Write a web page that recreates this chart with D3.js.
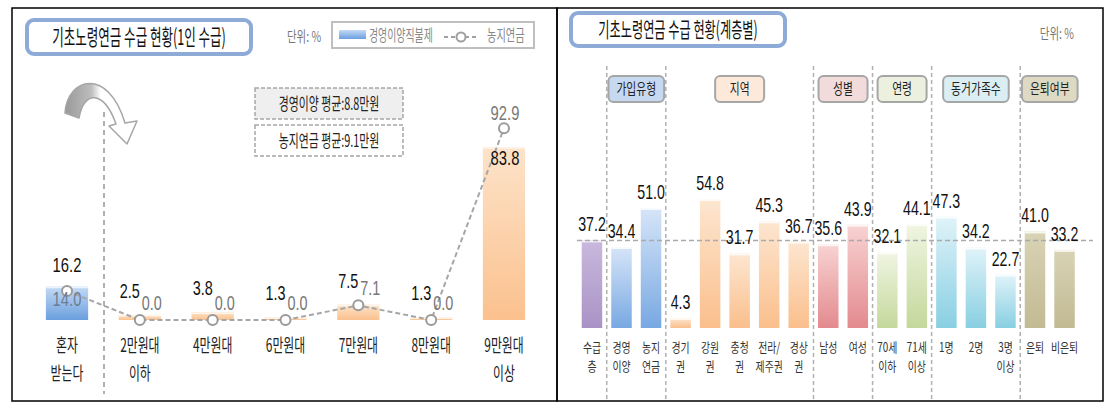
<!DOCTYPE html>
<html><head><meta charset="utf-8">
<script src="https://cdn.jsdelivr.net/npm/d3@7"></script>
<style>html,body{margin:0;padding:0;background:#fff;}svg{display:block;}</style>
</head><body>
<svg id="c" width="1119" height="408"></svg>
<script>
// ---------- DATA ----------
const leftTitle = "기초노령연금 수급 현황(1인 수급)";
const leftUnit = "단위: %";
const leftSeriesNames = ["경영이양직불제", "농지연금"];
const leftCategories = ["혼자|받는다", "2만원대|이하", "4만원대", "6만원대", "7만원대", "8만원대", "9만원대|이상"];
const leftBarValues = [16.2, 2.5, 3.8, 1.3, 7.5, 1.3, 83.8];   // 경영이양직불제
const leftLineValues = [14.0, 0.0, 0.0, 0.0, 7.1, 0.0, 92.9];  // 농지연금
const leftAverages = ["경영이양 평균:8.8만원", "농지연금 평균:9.1만원"];

const rightTitle = "기초노령연금 수급 현황(계층별)";
const rightUnit = "단위: %";
const rightCategories = ["수급|층", "경영|이양", "농지|연금", "경기|권", "강원|권", "충청|권", "전라/|제주권", "경상|권",
  "남성", "여성", "70세|이하", "71세|이상", "1명", "2명", "3명|이상", "은퇴", "비은퇴"];
const rightValues = [37.2, 34.4, 51.0, 4.3, 54.8, 31.7, 45.3, 36.7, 35.6, 43.9, 32.1, 44.1, 47.3, 34.2, 22.7, 41.0, 33.2];
const rightGroupOf = ["전체", "가입유형", "가입유형", "지역", "지역", "지역", "지역", "지역", "성별", "성별",
  "연령", "연령", "동거가족수", "동거가족수", "동거가족수", "은퇴여부", "은퇴여부"];
const rightGroupNames = ["가입유형", "지역", "성별", "연령", "동거가족수", "은퇴여부"];
const rightAverage = 37.2;

// ---------- STYLE ----------
const NUM = "'Liberation Sans', Arial, sans-serif";
const KR = "'Noto Sans CJK KR', 'Noto Sans', sans-serif";
const groupStyle = {
  "전체":     {top: "#c9b8dd", bot: "#a993c6", box: "#e4dfec"},
  "가입유형": {top: "#d6e5f8", bot: "#78a8e2", box: "#c6d9f1"},
  "지역":     {top: "#fde6d0", bot: "#fabf8c", box: "#fde9d9"},
  "성별":     {top: "#f8d3d3", bot: "#e38a8e", box: "#f2dcdb"},
  "연령":     {top: "#f0f5e2", bot: "#c4d89c", box: "#ebf1de"},
  "동거가족수": {top: "#e0f3f9", bot: "#88cfe2", box: "#daeef3"},
  "은퇴여부": {top: "#d9d3b6", bot: "#c2ba92", box: "#ddd9c3"}
};

const svg = d3.select("#c");
const defs = svg.append("defs");
function vgrad(id, top, bot) {
  const g = defs.append("linearGradient").attr("id", id).attr("x1", 0).attr("y1", 0).attr("x2", 0).attr("y2", 1);
  g.append("stop").attr("offset", "0%").attr("stop-color", top);
  g.append("stop").attr("offset", "100%").attr("stop-color", bot);
}
Object.keys(groupStyle).forEach((k, i) => vgrad("rg" + i, groupStyle[k].top, groupStyle[k].bot));
vgrad("lgBlue", "#c4daf4", "#6a9fdf");
vgrad("lgOrange", "#fde3c9", "#fbc18e");

function T(g, x, y, s, o) {
  o = Object.assign({size: 14, fam: KR, fill: "#000", anchor: "middle", sx: 0.7}, o || {});
  return g.append("text")
    .attr("transform", `translate(${x},${y}) scale(${o.sx},1)`)
    .attr("text-anchor", o.anchor)
    .style("font-family", o.fam).style("font-size", o.size + "px")
    .attr("fill", o.fill).text(s);
}

// ---------- PANELS ----------
svg.append("rect").attr("x", 12).attr("y", 8).attr("width", 545).attr("height", 393)
  .attr("fill", "none").attr("stroke", "#000").attr("stroke-width", 1.5);
svg.append("rect").attr("x", 557).attr("y", 8).attr("width", 546).attr("height", 393)
  .attr("fill", "none").attr("stroke", "#000").attr("stroke-width", 1.5);

// ---------- LEFT ----------
const L = svg.append("g");
L.append("rect").attr("x", 27).attr("y", 20).attr("width", 224).attr("height", 34).attr("rx", 7)
  .attr("fill", "#fff").attr("stroke", "#8eaad6").attr("stroke-width", 4);
T(L, 139, 45, leftTitle, {size: 22, sx: 0.57, fill: "#111"});
T(L, 304, 42, leftUnit, {size: 15, sx: 0.7, fill: "#777"});

// legend
L.append("rect").attr("x", 332).attr("y", 22).attr("width", 202).attr("height", 26)
  .attr("fill", "#fff").attr("stroke", "#bfbfbf").attr("stroke-width", 2);
L.append("rect").attr("x", 339).attr("y", 30).attr("width", 27).attr("height", 9).attr("fill", "url(#lgBlue)");
T(L, 369, 41, leftSeriesNames[0], {size: 16, sx: 0.62, fill: "#888", anchor: "start"});
L.append("line").attr("x1", 444).attr("x2", 479).attr("y1", 37).attr("y2", 37)
  .attr("stroke", "#a0a0a0").attr("stroke-width", 2).attr("stroke-dasharray", "4,3");
L.append("circle").attr("cx", 461).attr("cy", 37).attr("r", 4.5).attr("fill", "#fff")
  .attr("stroke", "#a0a0a0").attr("stroke-width", 2);
T(L, 487, 41, leftSeriesNames[1], {size: 16, sx: 0.64, fill: "#888", anchor: "start"});

// average boxes
[[88, "#efefef"], [125, "#fff"]].forEach((b, i) => {
  L.append("rect").attr("x", 255).attr("y", b[0]).attr("width", 148).attr("height", 31)
    .attr("fill", b[1]).attr("stroke", "#a6a6a6").attr("stroke-width", 1.5).attr("stroke-dasharray", "4,2");
  T(L, 329, b[0] + 22, leftAverages[i], {size: 17, sx: 0.64, fill: "#222"});
});

// curved arrow
const ag = defs.append("linearGradient").attr("id", "arrowG").attr("gradientUnits", "userSpaceOnUse")
  .attr("x1", 66).attr("y1", 0).attr("x2", 122).attr("y2", 0);
ag.append("stop").attr("offset", "0%").attr("stop-color", "#9a9a9a");
ag.append("stop").attr("offset", "45%").attr("stop-color", "#bdbdbd");
ag.append("stop").attr("offset", "62%").attr("stop-color", "#ffffff");
ag.append("stop").attr("offset", "100%").attr("stop-color", "#ffffff");
L.append("path")
  .attr("d", "M65,113 C67,78 108,66 125,123 L137,121 L127,144 L109,126 L116,124 C104,90 84,90 79,118 Z")
  .attr("fill", "url(#arrowG)").attr("stroke", "#a6a6a6").attr("stroke-width", 1.5).attr("stroke-linejoin", "round");

// vertical dashed separator
L.append("line").attr("x1", 104).attr("x2", 104).attr("y1", 112).attr("y2", 394)
  .attr("stroke", "#b0b0b0").attr("stroke-width", 2).attr("stroke-dasharray", "5,4");

const xL = d3.scaleBand().domain(leftCategories).range([30.6, 540.4]).paddingInner(0.42).paddingOuter(0.21);
const yL = d3.scaleLinear().domain([0, 100]).range([320, 113.5]);
const cxL = c => xL(c) + xL.bandwidth() / 2;

L.selectAll("rect.bar").data(leftCategories).join("rect").attr("class", "bar")
  .attr("x", c => xL(c)).attr("width", xL.bandwidth())
  .attr("y", (c, i) => yL(leftBarValues[i]))
  .attr("height", (c, i) => yL(0) - yL(leftBarValues[i]))
  .attr("fill", (c, i) => i === 0 ? "url(#lgBlue)" : "url(#lgOrange)");
L.selectAll("line.edge").data(leftCategories).join("line").attr("class", "edge")
  .attr("x1", c => xL(c)).attr("x2", c => xL(c) + xL.bandwidth())
  .attr("y1", (c, i) => yL(leftBarValues[i]) + 1).attr("y2", (c, i) => yL(leftBarValues[i]) + 1)
  .attr("stroke", "#fff").attr("stroke-opacity", 0.7).attr("stroke-width", 1.5);

const line = d3.line().x((v, i) => cxL(leftCategories[i])).y(v => yL(v));
L.append("path").attr("d", line(leftLineValues)).attr("fill", "none")
  .attr("stroke", "#a6a6a6").attr("stroke-width", 2).attr("stroke-dasharray", "5,3");
L.selectAll("circle.pt").data(leftLineValues).join("circle").attr("class", "pt")
  .attr("cx", (v, i) => cxL(leftCategories[i])).attr("cy", v => yL(v)).attr("r", 5)
  .attr("fill", "#fff").attr("stroke", "#9a9a9a").attr("stroke-width", 2);

const last = leftCategories.length - 1;
leftCategories.forEach((c, i) => {
  const cx = cxL(c), bt = yL(leftBarValues[i]), pt = yL(leftLineValues[i]);
  const bs = leftBarValues[i].toFixed(1), ps = leftLineValues[i].toFixed(1);
  if (i === 0) {
    T(L, cx, bt - 15, bs, {size: 20, fam: NUM, sx: 0.74, fill: "#111"});
    T(L, cx, pt + 15, ps, {size: 20, fam: NUM, sx: 0.74, fill: "#6b7d92"});
  } else if (i === last) {
    T(L, cx + 1, pt - 8, ps, {size: 20, fam: NUM, sx: 0.74, fill: "#777"});
    T(L, cx + 1, bt + 18, bs, {size: 20, fam: NUM, sx: 0.74, fill: "#111"});
  } else {
    T(L, cx - 10, bt - 17, bs, {size: 20, fam: NUM, sx: 0.72, fill: "#111"});
    T(L, cx + 12, pt - 10, ps, {size: 20, fam: NUM, sx: 0.72, fill: "#777"});
  }
  c.split("|").forEach((s, k) => T(L, cx, 352 + k * 28, s, {size: 18, sx: 0.66, fill: "#222"}));
});

// ---------- RIGHT ----------
const R = svg.append("g");
R.append("rect").attr("x", 571).attr("y", 13).attr("width", 214).attr("height", 33).attr("rx", 7)
  .attr("fill", "#fff").attr("stroke", "#8eaad6").attr("stroke-width", 4);
T(R, 678, 37, rightTitle, {size: 21, sx: 0.58, fill: "#111"});
T(R, 1074, 39, rightUnit, {size: 15, sx: 0.7, fill: "#777", anchor: "end"});

const xR = d3.scaleBand().domain(rightCategories).range([577.2, 1079.3]).paddingInner(0.306).paddingOuter(0.153);
const yR = d3.scaleLinear().domain([0, 100]).range([328, 92.6]);
const cxR = c => xR(c) + xR.bandwidth() / 2;
const gKeys = Object.keys(groupStyle);

// separators
rightCategories.forEach((c, i) => {
  if (i > 0 && rightGroupOf[i] !== rightGroupOf[i - 1]) {
    const x = (cxR(rightCategories[i - 1]) + cxR(c)) / 2;
    R.append("line").attr("x1", x).attr("x2", x).attr("y1", 66).attr("y2", 400)
      .attr("stroke", "#b0b0b0").attr("stroke-width", 1.5).attr("stroke-dasharray", "4,3");
  }
});

// bars
R.selectAll("rect.bar").data(rightCategories).join("rect").attr("class", "bar")
  .attr("x", c => xR(c)).attr("width", xR.bandwidth())
  .attr("y", (c, i) => yR(rightValues[i]))
  .attr("height", (c, i) => yR(0) - yR(rightValues[i]))
  .attr("fill", (c, i) => "url(#rg" + gKeys.indexOf(rightGroupOf[i]) + ")");
R.selectAll("line.edge").data(rightCategories).join("line").attr("class", "edge")
  .attr("x1", c => xR(c)).attr("x2", c => xR(c) + xR.bandwidth())
  .attr("y1", (c, i) => yR(rightValues[i]) + 1).attr("y2", (c, i) => yR(rightValues[i]) + 1)
  .attr("stroke", "#fff").attr("stroke-opacity", 0.8).attr("stroke-width", 2);

// average line
R.append("line").attr("x1", 577).attr("x2", 1093).attr("y1", yR(rightAverage)).attr("y2", yR(rightAverage))
  .attr("stroke", "#aaa").attr("stroke-width", 1.5).attr("stroke-dasharray", "5,3");

// value + category labels
rightCategories.forEach((c, i) => {
  const cx = cxR(c);
  T(R, cx, yR(rightValues[i]) - 9, rightValues[i].toFixed(1), {size: 20, fam: NUM, sx: 0.71, fill: "#111"});
  c.split("|").forEach((s, k) => T(R, cx, 352 + k * 19, s, {size: 13, sx: 0.76, fill: "#333"}));
});

// group header boxes
rightGroupNames.forEach(gname => {
  const idx = rightCategories.map((c, i) => i).filter(i => rightGroupOf[i] === gname);
  const cx = (cxR(rightCategories[idx[0]]) + cxR(rightCategories[idx[idx.length - 1]])) / 2;
  const gb = R.append("g");
  const rect = gb.append("rect");
  const t = T(gb, cx, 94, gname, {size: 15, sx: 0.72, fill: "#222"});
  const w = Math.max(49, t.node().getComputedTextLength() * 0.72 + 16);
  rect.attr("x", cx - w / 2).attr("y", 76).attr("width", w).attr("height", 26).attr("rx", 5)
    .attr("fill", groupStyle[gname].box).attr("stroke", "#a6a6a6").attr("stroke-width", 2);
});
</script>
</body></html>
